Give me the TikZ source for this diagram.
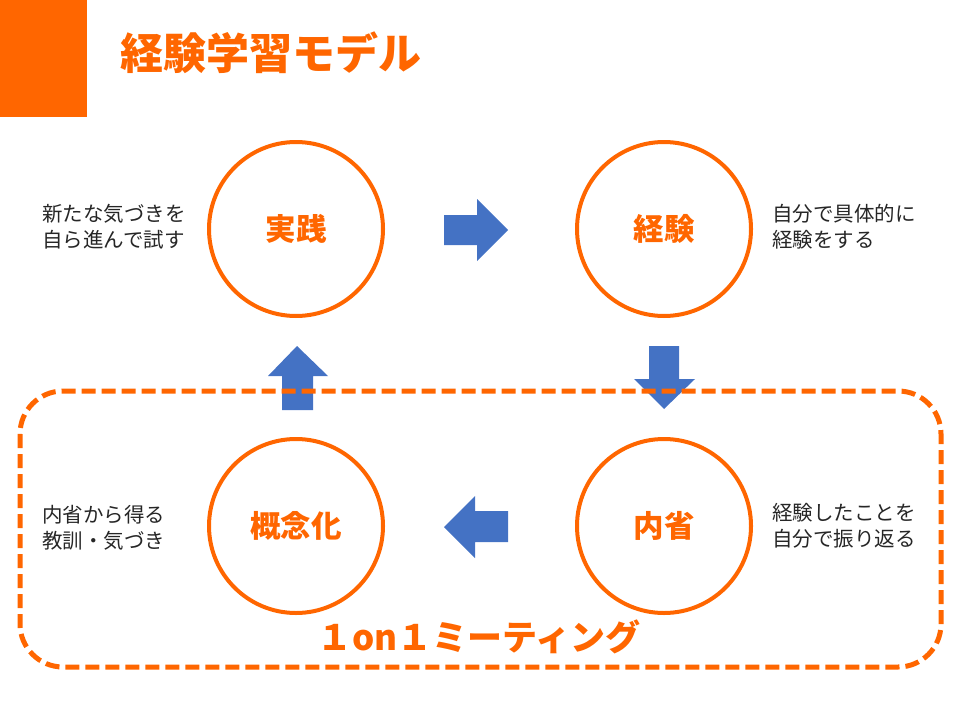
\documentclass[tikz,border=0pt]{standalone}
\usepackage{fontspec}
\setmainfont{Noto Sans CJK JP}
\definecolor{org}{HTML}{FF6600}
\definecolor{blu}{HTML}{4472C4}
\begin{document}
\begin{tikzpicture}[x=1pt,y=-1pt,
  stage/.style={circle,draw=org,line width=4pt,minimum size=174pt,inner sep=0pt,
    font=\fontsize{30.5pt}{34pt}\selectfont\bfseries,text=org},
  note/.style={anchor=west,align=left,inner sep=0pt,
    font=\fontsize{20.5pt}{26pt}\selectfont,text=black!85},
  barrow/.style={fill=blu,draw=none}]
\useasboundingbox (0,0) rectangle (960,720);
\fill[org] (0,0) rectangle (87,117);
\node[inner sep=0pt,text=org,font=\fontsize{43pt}{48pt}\selectfont\bfseries] (title) at (271,53) {経験学習モデル};
% stages
\node[stage] (jissen) at (296,229) {実践};
\node[stage] (keiken) at (664,229) {経験};
\node[stage] (naisei) at (664,526) {内省};
\node[stage] (gainen) at (296,526) {概念化};
% notes
\node[note] (n1) at (42,227) {新たな気づきを\\自ら進んで試す};
\node[note] (n2) at (772,227) {自分で具体的に\\経験をする};
\node[note] (n3) at (772,526) {経験したことを\\自分で振り返る};
\node[note] (n4) at (42,528) {内省から得る\\教訓・気づき};
% block arrows
\fill[barrow] (444,215) -- (477,215) -- (477,199) -- (508,230) -- (477,261) -- (477,245) -- (444,245) -- cycle;
\fill[barrow] (649,346) -- (679,346) -- (679,379) -- (695,379) -- (664,409) -- (634,379) -- (649,379) -- cycle;
\fill[barrow] (508,511) -- (475,511) -- (475,496) -- (444,527) -- (475,558) -- (475,542) -- (508,542) -- cycle;
\fill[barrow] (282,410) -- (313,410) -- (313,376) -- (328,376) -- (297,346) -- (268,376) -- (282,376) -- cycle;
% 1on1 frame
\draw[org,line width=5pt,dash pattern=on 14pt off 6pt,rounded corners=43pt] (20,391) rectangle (941,667);
\node[inner sep=0pt,text=org,font=\fontsize{35pt}{40pt}\selectfont\bfseries] (oneonone) at (479,637) {１on１ミーティング};
\end{tikzpicture}
\end{document}
